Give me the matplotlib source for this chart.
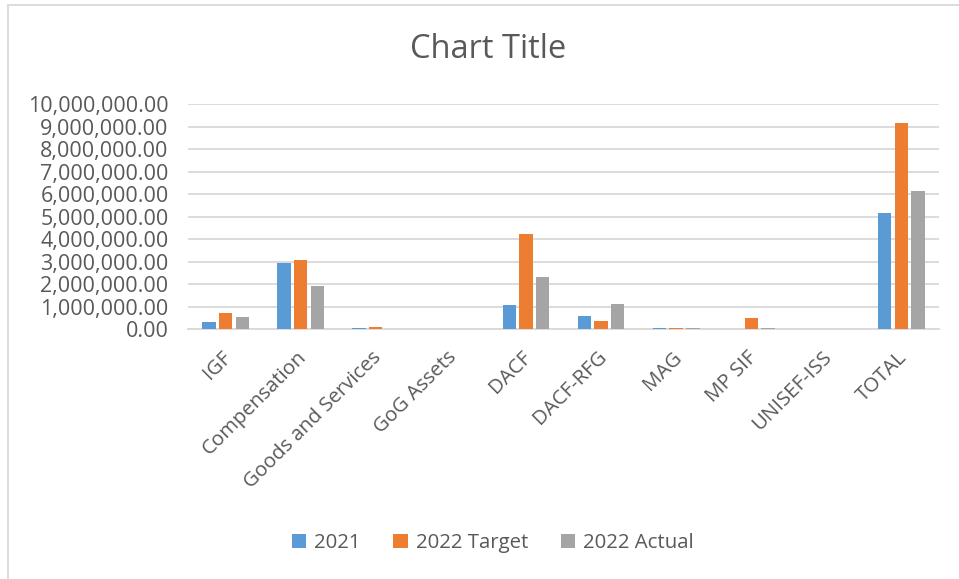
import matplotlib.pyplot as plt
import numpy as np
from matplotlib.patches import Rectangle
from matplotlib.ticker import FuncFormatter

plt.rcParams["font.family"] = ["Open Sans", "DejaVu Sans"]

categories = ["IGF", "Compensation", "Goods and Services", "GoG Assets", "DACF",
              "DACF-RFG", "MAG", "MP SIF", "UNISEF-ISS", "TOTAL"]
series_names = ["2021", "2022 Target", "2022 Actual"]
vals_2021 = [320000, 2960000, 50000, 0, 1090000, 600000, 50000, 0, 0, 5160000]
vals_target = [710000, 3080000, 120000, 0, 4240000, 370000, 50000, 490000, 0, 9160000]
vals_actual = [550000, 1940000, 10000, 0, 2340000, 1120000, 50000, 70000, 0, 6150000]
colors = ["#5b9bd5", "#ed7d31", "#a5a5a5"]
text_color = "#595959"


def main() -> None:
    fig = plt.figure(figsize=(9.59, 5.79), dpi=100)
    ax = fig.add_axes([188 / 959, 1 - 329.3 / 579, 751 / 959, 225 / 579])

    x = np.arange(len(categories))
    step = 0.222
    for i, (name, vals) in enumerate(zip(series_names, [vals_2021, vals_target, vals_actual])):
        ax.bar(x + (i - 1) * step, vals, width=0.178, color=colors[i], label=name,
               linewidth=0, zorder=3)

    ax.set_xlim(-0.5, len(categories) - 0.5)
    ax.set_ylim(0, 10_000_000)
    ax.set_yticks(np.arange(0, 10_000_001, 1_000_000))
    ax.yaxis.set_major_formatter(FuncFormatter(lambda v, _: f"{v:,.2f}"))
    ax.grid(axis="y", color="#d9d9d9", linewidth=1.3, zorder=0)
    for side in ["top", "right", "left"]:
        ax.spines[side].set_visible(False)
    ax.spines["bottom"].set_color("#d9d9d9")
    ax.spines["bottom"].set_linewidth(1.3)
    ax.tick_params(axis="y", length=0, labelsize=15.5, colors=text_color, pad=14)
    ax.tick_params(axis="x", length=0, labelsize=14.7, colors=text_color, pad=13)
    ax.set_xticks(x - 0.06)
    ax.set_xticklabels(categories, rotation=45, ha="right", rotation_mode="anchor")

    fig.text(0.509, 1 - 50 / 579, "Chart Title", ha="center", va="center",
             fontsize=23.5, color=text_color)

    fig.legend(loc="center", bbox_to_anchor=(0.514, 1 - 543 / 579), ncol=3, frameon=False,
               fontsize=14.7, labelcolor=text_color, handlelength=0.7, handleheight=0.7,
               handletextpad=0.4, columnspacing=1.6)

    fig.patches.append(Rectangle((8 / 959, -0.1), 1.2, 1 - 5 / 579 + 0.1,
                                 transform=fig.transFigure, fill=False,
                                 edgecolor="#d9d9d9", linewidth=1.3))

    fig.savefig("out.png", dpi=100)
    plt.close(fig)


if __name__ == "__main__":
    main()
